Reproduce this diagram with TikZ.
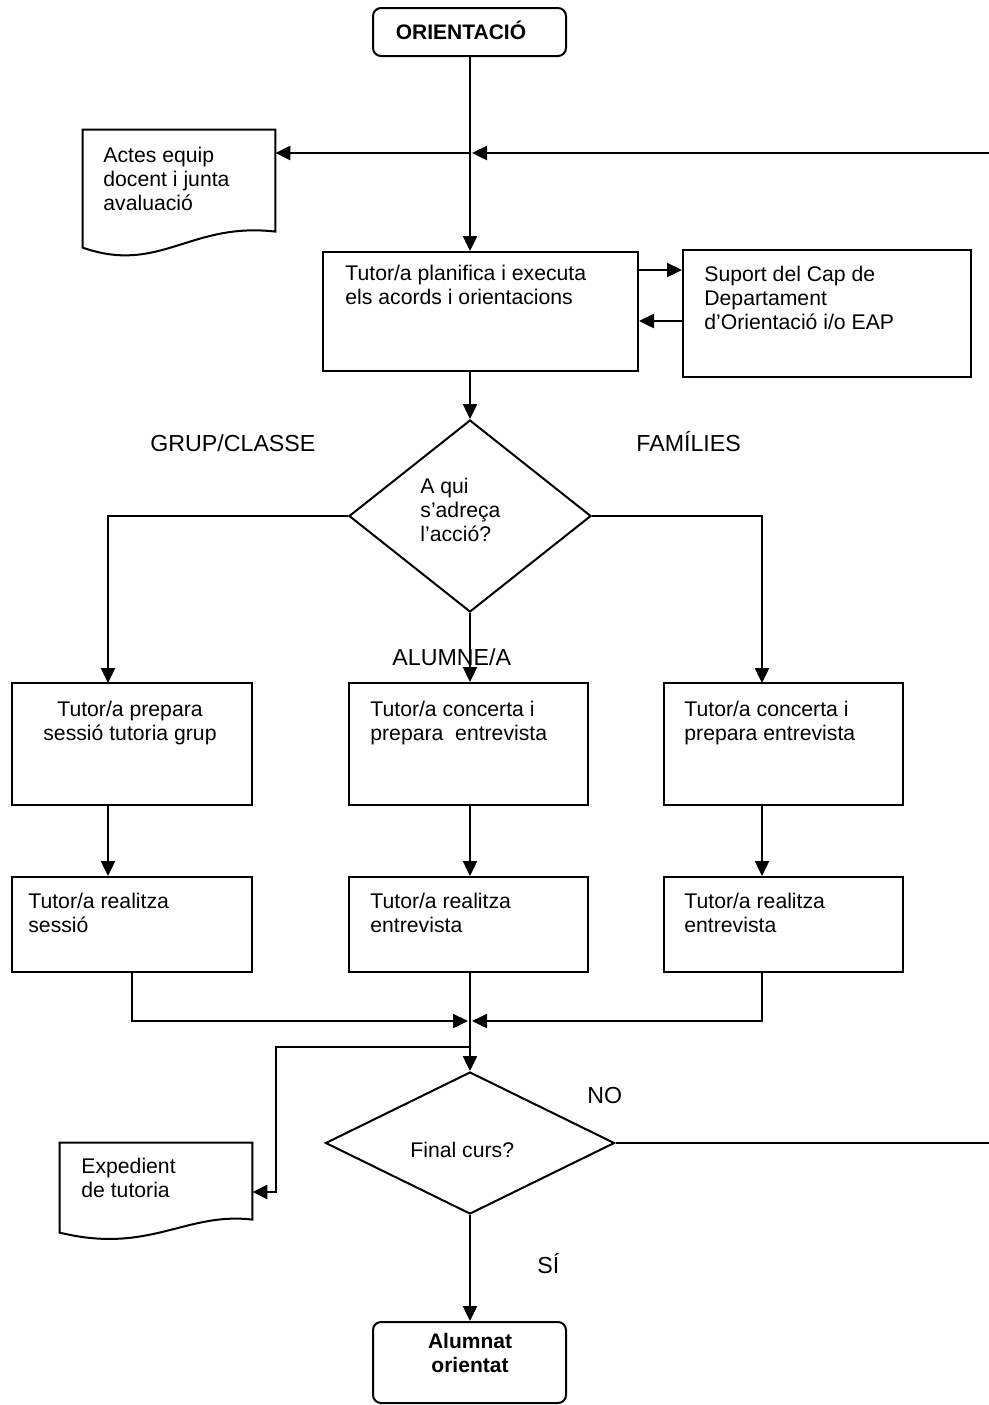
\documentclass[tikz,border=0pt]{standalone}
\usepackage{fontspec}
\setmainfont{Liberation Sans}
\usetikzlibrary{arrows.meta,shapes.geometric,fit,calc}

\begin{document}
\begin{tikzpicture}[x=0.5pt,y=-0.5pt,
  boxline/.style={draw=black, line width=1pt},
  procbox/.style={boxline, rectangle, inner sep=0pt},
  termbox/.style={boxline, rectangle, rounded corners=4pt, inner sep=0pt},
  hidden/.style={rectangle, inner sep=0pt},
  decision/.style={boxline, diamond, inner sep=0pt},
  conn/.style={line width=1.2pt, -{Triangle[length=7.5pt,width=7pt]}},
  txt/.style={inner sep=0pt, anchor=base west, align=left, font=\fontsize{10.6pt}{12pt}\selectfont},
  ctxt/.style={inner sep=0pt, anchor=base, align=center, font=\fontsize{10.6pt}{12pt}\selectfont},
  lbl/.style={inner sep=0pt, anchor=base west, font=\fontsize{11.6pt}{13pt}\selectfont},
  boldtxt/.style={inner sep=0pt, anchor=base, align=center, font=\fontsize{10.5pt}{12pt}\selectfont\bfseries},
]
\useasboundingbox (0,0) rectangle (989,1405);
% text nodes are placed by the baseline of their last line

% start terminal
\node[termbox, fit={(373,8) (566,56)}] (orient) {};
\node[boldtxt] (orientT) at (461,39) {ORIENTACIÓ};

% minutes document
\node[hidden, fit={(83,130) (275,258)}] (actes) {};
\draw[boxline] (actes.north west) -- (actes.north east)
  -- ($(actes.north east)+(0,102)$)
  .. controls ($(actes.north east)+(-85,92)$) and ($(actes.north west)+(77,145)$)
  .. ($(actes.north west)+(0,118)$) -- cycle;
\node[txt] (actesT) at (103,210) {Actes equip\\docent i junta\\avaluació};

% planning box and support box
\node[procbox, fit={(323,252) (638,371)}] (tutor) {};
\node[txt] (tutorT) at (345,304) {Tutor/a planifica i executa\\els acords i orientacions};
\node[procbox, fit={(683,250) (971,377)}] (suport) {};
\node[txt] (suportT) at (704,329) {Suport del Cap de\\Departament\\d’Orientació i/o EAP};

% first decision
\node[decision, minimum width=121pt, minimum height=96pt] (d1) at (470,516) {};
\node[txt] (d1T) at (420,541) {A qui\\s’adreça\\l’acció?};
\node[lbl] (lgrup) at (150,451) {GRUP/CLASSE};
\node[lbl] (lfam) at (636,451) {FAMÍLIES};
\node[lbl] (lalu) at (392,665) {ALUMNE/A};

% preparation row
\node[procbox, fit={(12,683) (252,805)}] (b1l) {};
\node[ctxt] (b1lT) at (130,740) {Tutor/a prepara\\sessió tutoria grup};
\node[procbox, fit={(349,683) (588,805)}] (b1m) {};
\node[txt] (b1mT) at (370,740) {Tutor/a concerta i\\prepara\ \ entrevista};
\node[procbox, fit={(664,683) (903,805)}] (b1r) {};
\node[txt] (b1rT) at (684,740) {Tutor/a concerta i\\prepara entrevista};

% execution row
\node[procbox, fit={(12,877) (252,972)}] (b2l) {};
\node[txt] (b2lT) at (28,932) {Tutor/a realitza\\sessió};
\node[procbox, fit={(349,877) (588,972)}] (b2m) {};
\node[txt] (b2mT) at (370,932) {Tutor/a realitza\\entrevista};
\node[procbox, fit={(664,877) (903,972)}] (b2r) {};
\node[txt] (b2rT) at (684,932) {Tutor/a realitza\\entrevista};

% second decision
\node[decision, minimum width=144.5pt, minimum height=71pt] (d2) at (470,1143) {};
\node[txt] (d2T) at (410,1157) {Final curs?};
\node[lbl] (lno) at (587,1103) {NO};
\node[lbl] (lsi) at (537,1273) {SÍ};

% tutoring record document
\node[hidden, fit={(60,1143) (252,1239)}] (exped) {};
\draw[boxline] (exped.north west) -- (exped.north east)
  -- ($(exped.north east)+(0,77)$)
  .. controls ($(exped.north east)+(-67,69)$) and ($(exped.north west)+(90,112)$)
  .. ($(exped.north west)+(0,90)$) -- cycle;
\node[txt] (expedT) at (81,1197) {Expedient\\de tutoria};

% end terminal
\node[termbox, fit={(373,1322) (566,1403)}] (term) {};
\node[boldtxt] (termT) at (470,1372) {Alumnat\\orientat};

% connectors
\coordinate (j1) at (470,153);
\coordinate (rt) at (1000,153);
\coordinate (rb) at (1000,1143);
\draw[conn] (j1 |- orient.south) -- (j1 |- tutor.north);
\draw[conn] (d2.east) -- (rb) -- (rt) -- ([xshift=1pt]j1);
\draw[conn] (j1) -- (j1 -| actes.east);

\coordinate (a1) at (0,270);
\coordinate (a2) at (0,321);
\draw[conn] (tutor.east |- a1) -- (suport.west |- a1);
\draw[conn] (suport.west |- a2) -- (tutor.east |- a2);

\draw[conn] (d1.north |- tutor.south) -- (d1.north);
\coordinate (c1l) at (108,683);
\coordinate (c1r) at (762,683);
\draw[conn] (d1.west) -| (c1l);
\draw[conn] (d1.east) -| (c1r);
\draw[conn] (d1.south) -- (d1.south |- b1m.north);

\draw[conn] (c1l |- b1l.south) -- (c1l |- b2l.north);
\draw[conn] (d1.south |- b1m.south) -- (d1.south |- b2m.north);
\draw[conn] (c1r |- b1r.south) -- (c1r |- b2r.north);

\coordinate (jm) at (470,1021);
\draw[conn] (b2l.south) |- ([xshift=-1pt]jm);
\draw[conn] (c1r |- b2r.south) |- ([xshift=1pt]jm);
\draw[conn] (d2.north |- b2m.south) -- (d2.north);

\coordinate (jx) at (470,1047);
\coordinate (k1) at (276,1047);
\coordinate (k2) at (276,1192);
\draw[conn] (jx) -- (k1) -- (k2) -- (k2 -| exped.east);

\draw[conn] (d2.south) -- (d2.south |- term.north);
\end{tikzpicture}
\end{document}
